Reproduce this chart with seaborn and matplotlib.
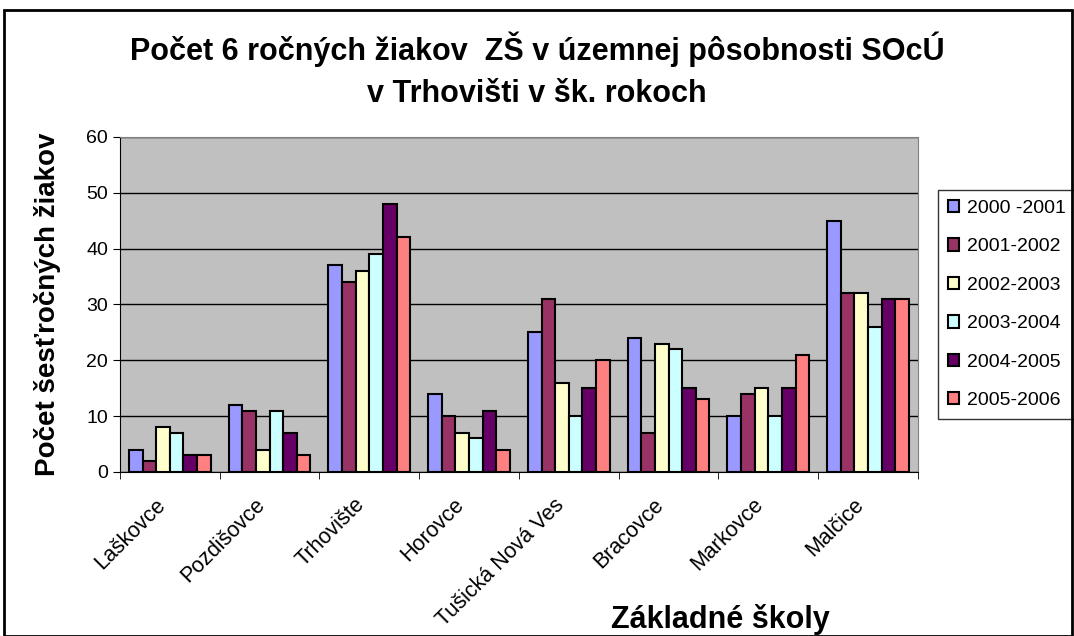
import pandas as pd
import seaborn as sns
import matplotlib.pyplot as plt
from matplotlib.patches import Rectangle
from matplotlib.transforms import ScaledTranslation

schools = ["Laškovce", "Pozdišovce", "Trhovište", "Horovce",
           "Tušická Nová Ves", "Bracovce", "Markovce", "Malčice"]
years = ["2000 -2001", "2001-2002", "2002-2003", "2003-2004", "2004-2005", "2005-2006"]

y2000 = [4, 12, 37, 14, 25, 24, 10, 45]
y2001 = [2, 11, 34, 10, 31, 7, 14, 32]
y2002 = [8, 4, 36, 7, 16, 23, 15, 32]
y2003 = [7, 11, 39, 6, 10, 22, 10, 26]
y2004 = [3, 7, 48, 11, 15, 15, 15, 31]
y2005 = [3, 3, 42, 4, 20, 13, 21, 31]

colors = ["#9999FF", "#993366", "#FFFFCC", "#CCFFFF", "#660066", "#FF8080"]

rows = []
for year, vals in zip(years, [y2000, y2001, y2002, y2003, y2004, y2005]):
    for s, v in zip(schools, vals):
        rows.append({"skola": s, "rok": year, "pocet": v})
df = pd.DataFrame(rows)

sns.set_style("white")
plt.rcParams['font.family'] = ['Liberation Sans', 'DejaVu Sans']
plt.rcParams['text.color'] = 'black'
plt.rcParams['axes.labelcolor'] = 'black'
plt.rcParams['xtick.color'] = 'black'
plt.rcParams['ytick.color'] = 'black'

fig = plt.figure(figsize=(10.74, 6.36), dpi=100)
ax = fig.add_axes([0.1117, 0.2579, 0.7430, 0.5267])
ax.set_facecolor("#C0C0C0")

sns.barplot(data=df, x="skola", y="pocet", hue="rok", palette=colors,
            width=0.82, edgecolor="black", linewidth=1.5, ax=ax, saturation=1)

ax.set_ylim(0, 60)
ax.set_xlim(-0.5, len(schools) - 0.5)
ax.set_yticks(range(0, 61, 10))
ax.yaxis.grid(True, color="black", linewidth=1)
ax.set_axisbelow(True)
for sp in ["top", "right"]:
    ax.spines[sp].set_color("#808080")
for sp in ["left", "bottom"]:
    ax.spines[sp].set_color("black")

ax.tick_params(axis="y", labelsize=14, length=5, direction="out", left=True)
ax.tick_params(axis="x", which="major", length=0, labelsize=15.5, pad=16)
ax.set_xticks([i + 0.5 for i in range(-1, len(schools))], minor=True)
ax.tick_params(axis="x", which="minor", length=5, direction="out", bottom=True)
shift = ScaledTranslation(-11 / 72, 0, fig.dpi_scale_trans)
for lbl in ax.get_xticklabels():
    lbl.set_rotation(45)
    lbl.set_ha("right")
    lbl.set_rotation_mode("anchor")
    lbl.set_transform(lbl.get_transform() + shift)

ax.set_xlabel("")
ax.set_ylabel("Počet šesťročných žiakov", fontsize=20, fontweight="bold", labelpad=18)
fig.text(0.671, 0.012, "Základné školy", fontsize=22, fontweight="bold", ha="center")

fig.suptitle("Počet 6 ročných žiakov  ZŠ v územnej pôsobnosti SOcÚ\nv Trhovišti v šk. rokoch",
             fontsize=22, fontweight="bold", y=0.95, linespacing=1.5)

leg = ax.legend(loc="center left", bbox_to_anchor=(1.025, 0.5), fontsize=14,
                frameon=True, fancybox=False, edgecolor="black", handlelength=0.6,
                handleheight=0.6, labelspacing=1.1, borderpad=0.5, handletextpad=0.4,
                borderaxespad=0)
leg.get_frame().set_linewidth(1)

fig.patches.append(Rectangle((0.004, 0.0), 0.994, 0.985, transform=fig.transFigure,
                             fill=False, edgecolor="black", linewidth=2))

fig.savefig("out.png", dpi=100)
